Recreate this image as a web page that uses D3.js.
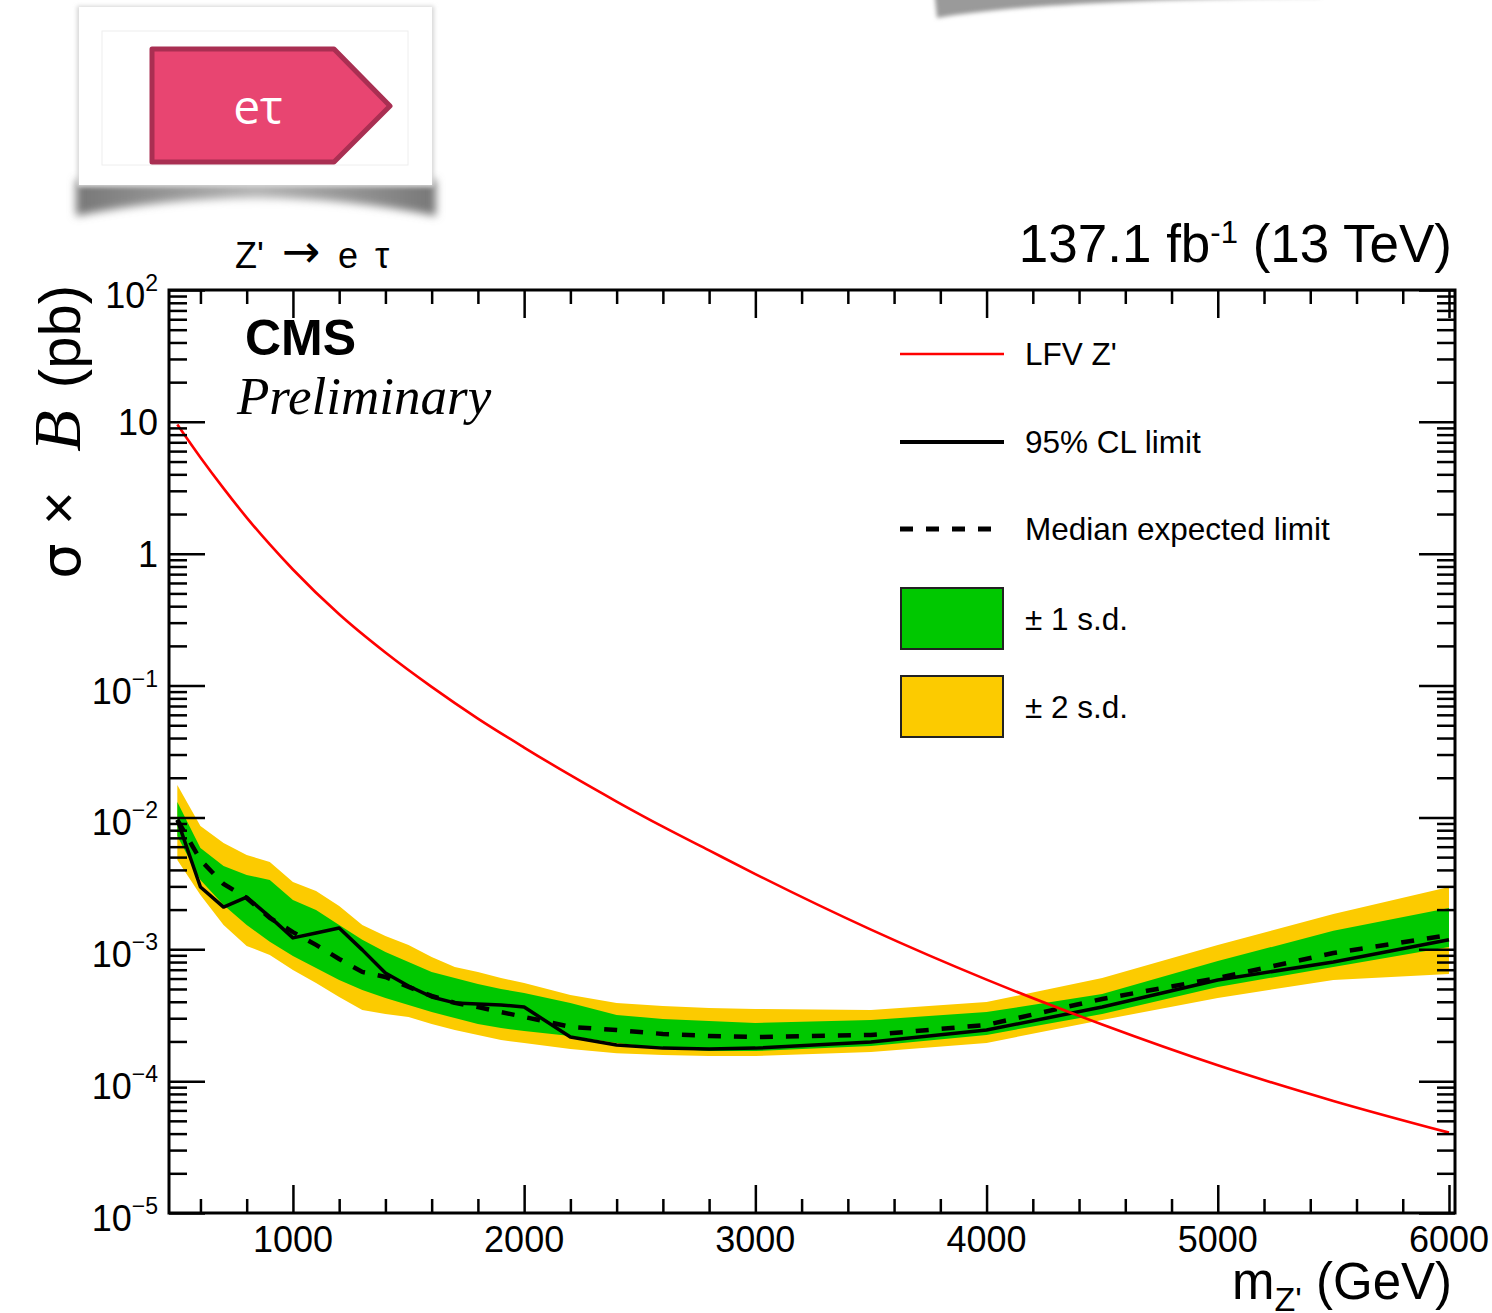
<!DOCTYPE html>
<html>
<head>
<meta charset="utf-8">
<script src="https://cdn.jsdelivr.net/npm/d3@7"></script>
<style>
  body { margin: 0; background: #fff; }
  svg { display: block; }
  text { font-family: "Liberation Sans", Arial, sans-serif; }
</style>
</head>
<body>
<div id="chart"></div>
<script>
// limit scan points (GeV)
var massPoints = [500, 600, 700, 800, 900, 1000, 1100, 1200, 1300, 1400, 1500, 1600, 1700, 1800, 1900,
                  2000, 2200, 2400, 2600, 2800, 3000, 3500, 4000, 4500, 5000, 5500, 6000];
// 95% CL observed limit (pb)
var observed = [9.57e-3, 2.97e-3, 2.09e-3, 2.49e-3, 1.76e-3, 1.22e-3, 1.33e-3, 1.45e-3, 9.9e-4, 6.6e-4, 5.27e-4, 4.35e-4, 3.92e-4, 3.85e-4, 3.78e-4,
                3.65e-4, 2.16e-4, 1.88e-4, 1.78e-4, 1.75e-4, 1.78e-4, 1.98e-4, 2.44e-4, 3.65e-4, 5.85e-4, 8.0e-4, 1.18e-3];
// median expected limit (pb)
var expected = [9.57e-3, 4.75e-3, 3.13e-3, 2.45e-3, 1.73e-3, 1.35e-3, 1.08e-3, 8.44e-4, 6.73e-4, 6.17e-4, 5.18e-4, 4.43e-4, 3.92e-4, 3.65e-4, 3.34e-4,
                3.07e-4, 2.58e-4, 2.44e-4, 2.28e-4, 2.20e-4, 2.16e-4, 2.24e-4, 2.67e-4, 4.20e-4, 6.05e-4, 9.37e-4, 1.28e-3];
// +-1 s.d. band
var up1 = [1.31e-2, 5.86e-3, 4.28e-3, 3.66e-3, 3.35e-3, 2.36e-3, 1.99e-3, 1.53e-3, 1.18e-3, 9.54e-4, 8.0e-4, 6.73e-4, 6.05e-4, 5.46e-4, 5.0e-4,
           4.66e-4, 3.92e-4, 3.18e-4, 2.96e-4, 2.86e-4, 2.76e-4, 2.91e-4, 3.34e-4, 4.58e-4, 8.15e-4, 1.38e-3, 2.06e-3];
var dn1 = [7.23e-3, 3.35e-3, 2.17e-3, 1.53e-3, 1.14e-3, 8.9e-4, 7.21e-4, 5.85e-4, 4.91e-4, 4.27e-4, 3.78e-4, 3.34e-4, 3.01e-4, 2.71e-4, 2.53e-4,
           2.40e-4, 2.20e-4, 1.95e-4, 1.78e-4, 1.69e-4, 1.69e-4, 1.85e-4, 2.24e-4, 3.23e-4, 5.18e-4, 7.34e-4, 1.04e-3];
// +-2 s.d. band
var up2 = [1.76e-2, 8.61e-3, 6.40e-3, 5.19e-3, 4.59e-3, 3.24e-3, 2.77e-3, 2.13e-3, 1.53e-3, 1.26e-3, 1.08e-3, 8.74e-4, 7.34e-4, 6.73e-4, 6.05e-4,
           5.55e-4, 4.50e-4, 3.92e-4, 3.72e-4, 3.59e-4, 3.53e-4, 3.47e-4, 3.98e-4, 6.05e-4, 1.08e-3, 1.85e-3, 2.97e-3];
var dn2 = [4.75e-3, 2.58e-3, 1.53e-3, 1.06e-3, 9.05e-4, 6.97e-4, 5.55e-4, 4.35e-4, 3.47e-4, 3.23e-4, 3.07e-4, 2.71e-4, 2.44e-4, 2.24e-4, 2.05e-4,
           1.95e-4, 1.75e-4, 1.63e-4, 1.58e-4, 1.55e-4, 1.55e-4, 1.66e-4, 1.95e-4, 2.91e-4, 4.27e-4, 5.85e-4, 6.5e-4];

// LFV Z' theory cross section
var lfvMass = [500, 600, 700, 800, 900, 1000, 1200, 1400, 1600, 1800, 2000, 2200, 2400, 2600, 2800, 3000, 3500, 4000, 4500, 5000, 5500, 6000];
var lfvXsec = [9.55, 5.37, 3.13, 1.88, 1.175, 0.759, 0.347, 0.178, 0.0977, 0.0562, 0.0339, 0.0209, 0.0132, 0.00851, 0.00562, 0.00372,
               0.00141, 5.89e-4, 2.69e-4, 1.32e-4, 7.08e-5, 4.07e-5];

var xMajor = [1000, 2000, 3000, 4000, 5000, 6000];
var xMinor = [600, 800, 1200, 1400, 1600, 1800, 2200, 2400, 2600, 2800, 3200, 3400, 3600, 3800,
              4200, 4400, 4600, 4800, 5200, 5400, 5600, 5800];
var yExponents = [-5, -4, -3, -2, -1, 0, 1, 2];
var xRange = [464, 6026];

var W = 1492, H = 1313;
var frame = {left: 169, right: 1455, top: 290, bottom: 1213};

var svg = d3.select("#chart").append("svg")
    .attr("width", W).attr("height", H);

var defs = svg.append("defs");
defs.append("filter").attr("id", "blur4").attr("x", "-20%").attr("y", "-50%").attr("width", "140%").attr("height", "200%")
    .append("feGaussianBlur").attr("stdDeviation", 4);
defs.append("filter").attr("id", "blur2").attr("x", "-10%").attr("y", "-10%").attr("width", "120%").attr("height", "120%")
    .append("feGaussianBlur").attr("stdDeviation", 2);
var shade = defs.append("linearGradient").attr("id", "shade").attr("x1", 0).attr("x2", 1).attr("y1", 0).attr("y2", 0);
shade.append("stop").attr("offset", "0%").attr("stop-color", "#777");
shade.append("stop").attr("offset", "50%").attr("stop-color", "#b5b5b5");
shade.append("stop").attr("offset", "100%").attr("stop-color", "#777");

// ---- badge card at top left ----
svg.append("path")
    .attr("d", "M76,180 L436,180 L436,216 Q256,180 76,216 Z")
    .attr("fill", "url(#shade)")
    .attr("filter", "url(#blur4)");
svg.append("rect")
    .attr("x", 77).attr("y", 6).attr("width", 357).attr("height", 181)
    .attr("fill", "#d6d6d6").attr("filter", "url(#blur2)");
svg.append("rect")
    .attr("x", 79).attr("y", 7).attr("width", 353).attr("height", 178)
    .attr("fill", "#fff");
svg.append("rect")
    .attr("x", 102).attr("y", 31).attr("width", 306).attr("height", 134)
    .attr("fill", "#fff").attr("stroke", "#eeeeee").attr("stroke-width", 1);
svg.append("path")
    .attr("d", "M152,49 L334,49 L390,106 L334,162 L152,162 Z")
    .attr("fill", "#e84571").attr("stroke", "#a92f52")
    .attr("stroke-width", 5).attr("stroke-linejoin", "round");
svg.append("text")
    .attr("x", 258).attr("y", 124)
    .attr("text-anchor", "middle")
    .style("font-family", "'Open Sans', sans-serif")
    .attr("font-size", 48).attr("fill", "#fff")
    .text("eτ");

// shadow of another card above the page (top right)
svg.append("path")
    .attr("d", "M932,-30 L1320,-30 L1320,-3 Q1040,0 937,18 Z")
    .attr("fill", "#9a9a9a")
    .attr("filter", "url(#blur2)");

// ---- scales ----
var x = d3.scaleLinear().domain(xRange).range([frame.left, frame.right]);
var y = d3.scaleLog().domain([1e-5, 1e2]).range([frame.bottom, frame.top]);

var rows = massPoints.map(function (m, i) {
    return {m: m, obs: observed[i], exp: expected[i], u1: up1[i], d1: dn1[i], u2: up2[i], d2: dn2[i]};
});

var band = function (lo, hi) {
    return d3.area()
        .x(function (d) { return x(d.m); })
        .y0(function (d) { return y(d[lo]); })
        .y1(function (d) { return y(d[hi]); });
};

svg.append("path").datum(rows).attr("d", band("d2", "u2")).attr("fill", "#fccb00");
svg.append("path").datum(rows).attr("d", band("d1", "u1")).attr("fill", "#00c800");

svg.append("path").datum(rows)
    .attr("d", d3.line().x(function (d) { return x(d.m); }).y(function (d) { return y(d.exp); }))
    .attr("fill", "none").attr("stroke", "#000").attr("stroke-width", 4.5)
    .attr("stroke-dasharray", "13,13");

svg.append("path").datum(rows)
    .attr("d", d3.line().x(function (d) { return x(d.m); }).y(function (d) { return y(d.obs); }))
    .attr("fill", "none").attr("stroke", "#000").attr("stroke-width", 3.5)
    .attr("stroke-linejoin", "round");

var lfv = lfvMass.map(function (m, i) { return {m: m, v: lfvXsec[i]}; });
svg.append("path").datum(lfv)
    .attr("d", d3.line().curve(d3.curveMonotoneX)
        .x(function (d) { return x(d.m); }).y(function (d) { return y(d.v); }))
    .attr("fill", "none").attr("stroke", "#ff0000").attr("stroke-width", 2.6);

// ---- frame and ticks ----
var yMinor = [];
yExponents.slice(0, -1).forEach(function (e) {
    for (var k = 2; k <= 9; k++) yMinor.push(k * Math.pow(10, e));
});
var yMajor = yExponents.map(function (e) { return Math.pow(10, e); });

function ticks(axis, transform) {
    var g = svg.append("g").attr("transform", transform).call(axis);
    g.select(".domain").remove();
    g.selectAll("line").attr("stroke", "#000").attr("stroke-width", 2.5);
}
ticks(d3.axisBottom(x).tickValues(xMajor).tickSize(-28).tickFormat(""), "translate(0," + frame.bottom + ")");
ticks(d3.axisBottom(x).tickValues(xMinor).tickSize(-14).tickFormat(""), "translate(0," + frame.bottom + ")");
ticks(d3.axisTop(x).tickValues(xMajor).tickSize(-28).tickFormat(""), "translate(0," + frame.top + ")");
ticks(d3.axisTop(x).tickValues(xMinor).tickSize(-14).tickFormat(""), "translate(0," + frame.top + ")");
ticks(d3.axisLeft(y).tickValues(yMajor).tickSize(-36).tickFormat(""), "translate(" + frame.left + ",0)");
ticks(d3.axisLeft(y).tickValues(yMinor).tickSize(-18).tickFormat(""), "translate(" + frame.left + ",0)");
ticks(d3.axisRight(y).tickValues(yMajor).tickSize(-36).tickFormat(""), "translate(" + frame.right + ",0)");
ticks(d3.axisRight(y).tickValues(yMinor).tickSize(-18).tickFormat(""), "translate(" + frame.right + ",0)");

svg.append("rect")
    .attr("x", frame.left).attr("y", frame.top)
    .attr("width", frame.right - frame.left).attr("height", frame.bottom - frame.top)
    .attr("fill", "none").attr("stroke", "#000").attr("stroke-width", 3);

// ---- tick labels ----
svg.append("g").selectAll("text").data(xMajor).enter().append("text")
    .attr("x", function (d) { return x(d); }).attr("y", 1252)
    .attr("text-anchor", "middle").attr("font-size", 36)
    .text(function (d) { return d; });

var yl = svg.append("g").selectAll("text").data(yExponents).enter().append("text")
    .attr("x", 158)
    .attr("y", function (e) { return y(Math.pow(10, e)) + ((e === 0 || e === 1) ? 13 : 18); })
    .attr("text-anchor", "end").attr("font-size", 36);
yl.append("tspan").text(function (e) { return e === 0 ? "1" : "10"; });
yl.filter(function (e) { return e !== 0 && e !== 1; })
    .append("tspan").attr("font-size", 23).attr("dy", -17)
    .text(function (e) { return e < 0 ? "\u2212" + (-e) : e; });

// ---- axis titles ----
var xt = svg.append("text").attr("x", 1452).attr("y", 1299)
    .attr("text-anchor", "end").attr("font-size", 51);
xt.append("tspan").text("m");
xt.append("tspan").attr("font-size", 34).attr("dy", 12).text("Z'");
xt.append("tspan").attr("dy", -12).text(" (GeV)");

var yt = svg.append("g").attr("transform", "translate(80,0) rotate(-90)");
yt.append("text").attr("x", -285).attr("y", 0).attr("text-anchor", "end")
    .attr("font-size", 58).text("(pb)");
yt.append("text").attr("x", -431).attr("y", 0).attr("text-anchor", "middle")
    .style("font-family", "'Liberation Serif', serif").style("font-style", "italic")
    .attr("font-size", 68).text("B");
yt.append("text").attr("x", -508).attr("y", -2).attr("text-anchor", "middle")
    .attr("font-size", 58).text("\u00d7");
yt.append("text").attr("x", -561).attr("y", 0).attr("text-anchor", "middle")
    .style("font-family", "'DejaVu Sans', sans-serif")
    .attr("font-size", 56).text("σ");

// ---- header texts ----
var proc = svg.append("g").attr("font-size", 36);
proc.append("text").attr("x", 235).attr("y", 268).text("Z'");
proc.append("text").attr("x", 282).attr("y", 267)
    .style("font-family", "'DejaVu Sans', sans-serif").attr("font-size", 46).text("\u2192");
proc.append("text").attr("x", 338).attr("y", 268).text("e");
proc.append("text").attr("x", 375).attr("y", 268).text("\u03c4");

var lumi = svg.append("text").attr("x", 1452).attr("y", 262)
    .attr("text-anchor", "end").attr("font-size", 53);
lumi.append("tspan").text("137.1 fb");
lumi.append("tspan").attr("font-size", 31).attr("dy", -19).text("-1");
lumi.append("tspan").attr("dy", 19).text(" (13 TeV)");

svg.append("text").attr("x", 245).attr("y", 355)
    .attr("font-size", 50).attr("font-weight", "bold").text("CMS");
svg.append("text").attr("x", 237).attr("y", 414)
    .style("font-family", "'Liberation Serif', serif").style("font-style", "italic")
    .attr("font-size", 53).text("Preliminary");

// ---- legend ----
var legend = [
    {label: "LFV Z'", type: "line", color: "#ff0000", width: 2.5, dash: null, cy: 354},
    {label: "95% CL limit", type: "line", color: "#000", width: 4, dash: null, cy: 442},
    {label: "Median expected limit", type: "line", color: "#000", width: 5, dash: "13,13", cy: 529},
    {label: "\u00b1 1 s.d.", type: "box", color: "#00c800", cy: 619},
    {label: "\u00b1 2 s.d.", type: "box", color: "#fccb00", cy: 707}
];
var lg = svg.append("g").selectAll("g").data(legend).enter().append("g");
lg.filter(function (d) { return d.type === "line"; }).append("line")
    .attr("x1", 900).attr("x2", function (d) { return d.dash ? 994 : 1004; })
    .attr("y1", function (d) { return d.cy; }).attr("y2", function (d) { return d.cy; })
    .attr("stroke", function (d) { return d.color; })
    .attr("stroke-width", function (d) { return d.width; })
    .attr("stroke-dasharray", function (d) { return d.dash; });
lg.filter(function (d) { return d.type === "box"; }).append("rect")
    .attr("x", 901).attr("y", function (d) { return d.cy - 31; })
    .attr("width", 102).attr("height", 61)
    .attr("fill", function (d) { return d.color; })
    .attr("stroke", "#222").attr("stroke-width", 2);
lg.append("text")
    .attr("x", 1025).attr("y", function (d) { return d.cy + 11; })
    .attr("font-size", 31.5)
    .text(function (d) { return d.label; });
</script>
</body>
</html>
